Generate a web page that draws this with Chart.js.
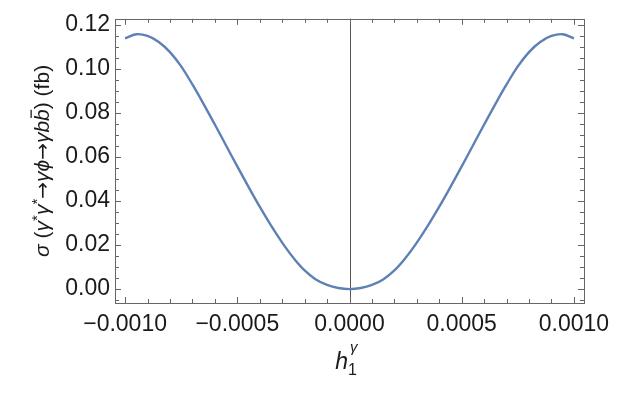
<!DOCTYPE html>
<html>
<head>
<meta charset="utf-8">
<script src="https://cdn.jsdelivr.net/npm/chart.js@4"></script>
<style>
  html, body { margin: 0; padding: 0; background: #fff; }
  #wrap { width: 628px; height: 393px; }
</style>
</head>
<body>
<div id="wrap"><canvas id="chart"></canvas></div>
<script>
// curve (h1 coupling vs cross section in fb)
const hValues = [
  -0.00100, -0.00095, -0.00090, -0.00085, -0.00080, -0.00075, -0.00070, -0.00065, -0.00060, -0.00055,
  -0.00050, -0.00045, -0.00040, -0.00035, -0.00030, -0.00025, -0.00020, -0.00015, -0.00010, -0.00005,
  0,
  0.00005, 0.00010, 0.00015, 0.00020, 0.00025, 0.00030, 0.00035, 0.00040, 0.00045, 0.00050,
  0.00055, 0.00060, 0.00065, 0.00070, 0.00075, 0.00080, 0.00085, 0.00090, 0.00095, 0.00100
];
const sigmaValues = [
  0.1138, 0.1157, 0.1149, 0.1122, 0.1076, 0.1011, 0.0929, 0.0840, 0.0747, 0.0652,
  0.0557, 0.0464, 0.0374, 0.0289, 0.0211, 0.0142, 0.0085, 0.0044, 0.0019, 0.0005,
  0,
  0.0005, 0.0019, 0.0044, 0.0085, 0.0142, 0.0211, 0.0289, 0.0374, 0.0464, 0.0557,
  0.0652, 0.0747, 0.0840, 0.0929, 0.1011, 0.1076, 0.1122, 0.1149, 0.1157, 0.1138
];

const xTicks = [-0.001, -0.0005, 0, 0.0005, 0.001];
const xTickLabels = ['\u22120.0010', '\u22120.0005', '0.0000', '0.0005', '0.0010'];
const yTicks = [0, 0.02, 0.04, 0.06, 0.08, 0.10, 0.12];
const yTickLabels = ['0.00', '0.02', '0.04', '0.06', '0.08', '0.10', '0.12'];

const FONT = '"Liberation Sans", Arial, sans-serif';
const frameColor = '#666';
const textColor = '#1a1a1a';

// draw a run of text pieces (italic / sub / sup / overline) centred at 0,0
function drawRich(ctx, parts, size) {
  const fontOf = p => (p.it ? 'italic ' : '') + Math.round(size * (p.s || 1)) + 'px ' + (p.f || FONT);
  let total = 0;
  parts.forEach(p => { ctx.font = fontOf(p); p.w = ctx.measureText(p.t).width; total += p.w + (p.gap || 0); });
  let x = -total / 2;
  ctx.textBaseline = 'alphabetic';
  ctx.textAlign = 'left';
  parts.forEach(p => {
    ctx.font = fontOf(p);
    const y = size * 0.36 + (p.dy || 0) * size;
    ctx.fillText(p.t, x, y);
    if (p.bar) {
      ctx.fillRect(x + p.w * 0.25, y - size * 0.86, p.w * 0.7, Math.max(1, size * 0.06));
    }
    x += p.w + (p.gap || 0);
  });
}

const mmaFrame = {
  id: 'mmaFrame',
  beforeDatasetsDraw(chart) {
    const { ctx, chartArea: a, scales: { x } } = chart;
    ctx.save();
    ctx.strokeStyle = '#555';
    ctx.lineWidth = 1;
    const x0 = Math.round(x.getPixelForValue(0)) + 0.5;
    ctx.beginPath();
    ctx.moveTo(x0, a.top);
    ctx.lineTo(x0, a.bottom);
    ctx.stroke();
    ctx.restore();
  },
  afterDatasetsDraw(chart) {
    const { ctx, chartArea: a, scales: { x, y } } = chart;
    ctx.save();
    ctx.strokeStyle = frameColor;
    ctx.lineWidth = 1;
    ctx.strokeRect(Math.round(a.left) + 0.5, Math.round(a.top) + 0.5,
      Math.round(a.right - a.left), Math.round(a.bottom - a.top));
    ctx.beginPath();
    // x ticks, minor every 0.0001
    for (let k = -10; k <= 10; k++) {
      const px = Math.round(x.getPixelForValue(k * 1e-4)) + 0.5;
      const len = k % 5 === 0 ? 6 : 4;
      ctx.moveTo(px, a.bottom); ctx.lineTo(px, a.bottom - len);
      ctx.moveTo(px, a.top); ctx.lineTo(px, a.top + len);
    }
    // y ticks, minor every 0.005
    for (let k = -1; k <= 24; k++) {
      const v = k * 0.005;
      if (v < y.min || v > y.max) continue;
      const py = Math.round(y.getPixelForValue(v)) + 0.5;
      const len = k % 4 === 0 ? 6 : 4;
      ctx.moveTo(a.left, py); ctx.lineTo(a.left + len, py);
      ctx.moveTo(a.right, py); ctx.lineTo(a.right - len, py);
    }
    ctx.stroke();
    ctx.restore();
  },
  afterDraw(chart) {
    const { ctx, chartArea: a } = chart;
    ctx.save();
    ctx.fillStyle = textColor;
    // y title
    ctx.translate(41, (a.top + a.bottom) / 2);
    ctx.rotate(-Math.PI / 2);
    drawRich(ctx, [
      { t: '\u03C3', it: true },
      { t: ' (' },
      { t: '\u03B3', it: true },
      { t: '*', s: 0.7, dy: -0.3 },
      { t: '\u03B3', it: true },
      { t: '*', s: 0.7, dy: -0.3 },
      { t: '\u2192', f: '"DejaVu Sans", sans-serif', s: 0.95 },
      { t: '\u03B3\u03D5', it: true },
      { t: '\u2192', f: '"DejaVu Sans", sans-serif', s: 0.95 },
      { t: '\u03B3b', it: true },
      { t: 'b', it: true, bar: true },
      { t: ') (fb)' }
    ], 21);
    ctx.restore();
    // x title
    ctx.save();
    ctx.fillStyle = textColor;
    ctx.translate(346, 361);
    drawRich(ctx, [
      { t: 'h', it: true },
      { t: '1', s: 0.68, dy: 0.25 }
    ], 23);
    ctx.font = 'italic 15px ' + FONT;
    ctx.fillText('\u03B3', 4, -9);
    ctx.restore();
  }
};

new Chart(document.getElementById('chart'), {
  type: 'scatter',
  data: {
    datasets: [{
      data: hValues.map((h, i) => ({ x: h, y: sigmaValues[i] })),
      showLine: true,
      borderColor: '#5E81B5',
      borderWidth: 2.4,
      pointRadius: 0,
      tension: 0.4,
      fill: false
    }]
  },
  options: {
    responsive: true,
    maintainAspectRatio: false,
    animation: false,
    layout: { padding: { left: 0, right: 44, top: 18, bottom: 0 } },
    plugins: { legend: { display: false }, tooltip: { enabled: false } },
    scales: {
      x: {
        type: 'linear',
        min: -0.001045,
        max: 0.001045,
        grid: { display: false, drawTicks: false },
        border: { display: false },
        afterFit: s => { s.height = 90; },
        afterBuildTicks: s => { s.ticks = xTicks.map(v => ({ value: v })); },
        ticks: {
          padding: 8,
          color: textColor,
          font: { family: FONT, size: 23 },
          maxRotation: 0,
          autoSkip: false,
          callback: (v) => xTickLabels[xTicks.findIndex(t => Math.abs(t - v) < 1e-9)]
        }
      },
      y: {
        type: 'linear',
        min: -0.0063,
        max: 0.1227,
        grid: { display: false, drawTicks: false },
        border: { display: false },
        afterFit: s => { s.width = 115; },
        afterBuildTicks: s => { s.ticks = yTicks.map(v => ({ value: v })); },
        ticks: {
          padding: 5,
          color: textColor,
          font: { family: FONT, size: 23 },
          autoSkip: false,
          callback: (v) => yTickLabels[yTicks.findIndex(t => Math.abs(t - v) < 1e-9)]
        }
      }
    }
  },
  plugins: [mmaFrame]
});
</script>
</body>
</html>
